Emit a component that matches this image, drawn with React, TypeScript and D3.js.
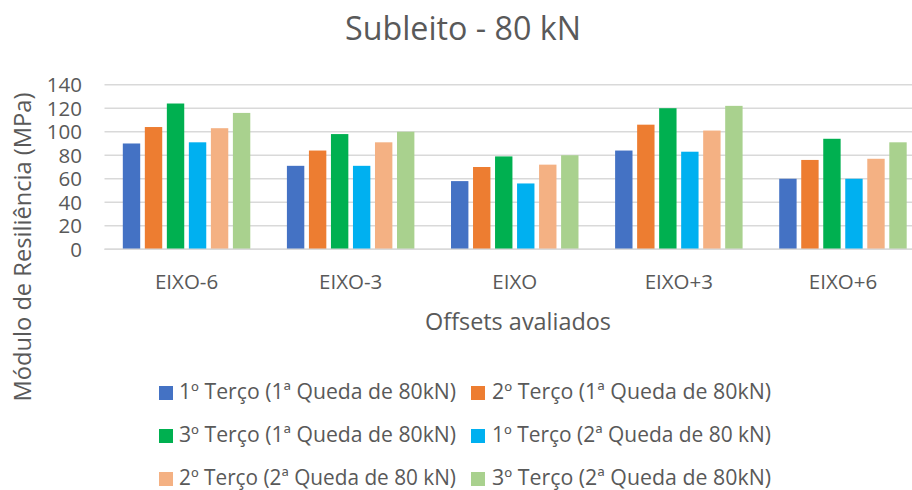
import React from "react";
import * as d3 from "d3";

const categories = ["EIXO-6", "EIXO-3", "EIXO", "EIXO+3", "EIXO+6"];
const seriesNames = [
  "1º Terço (1ª Queda de 80kN)",
  "2º Terço (1ª Queda de 80kN)",
  "3º Terço (1ª Queda de 80kN)",
  "1º Terço (2ª Queda de 80 kN)",
  "2º Terço (2ª Queda de 80 kN)",
  "3º Terço (2ª Queda de 80kN)",
];
const terco1Queda1 = [90, 71, 58, 84, 60];
const terco2Queda1 = [104, 84, 70, 106, 76];
const terco3Queda1 = [124, 98, 79, 120, 94];
const terco1Queda2 = [91, 71, 56, 83, 60];
const terco2Queda2 = [103, 91, 72, 101, 77];
const terco3Queda2 = [116, 100, 80, 122, 91];
const seriesValues = [terco1Queda1, terco2Queda1, terco3Queda1, terco1Queda2, terco2Queda2, terco3Queda2];
const colors = ["#4472C4", "#ED7D31", "#00B050", "#00B0F0", "#F4B183", "#A9D18E"];
const yTicks = [0, 20, 40, 60, 80, 100, 120, 140];

const W = 912;
const H = 490;
const FONT = "'Open Sans', sans-serif";
const TEXT = "#595959";

export default function App() {
  const x = d3.scaleBand<string>().domain(categories).range([104.5, 925]).padding(0);
  const inner = d3
    .scaleBand<number>()
    .domain(d3.range(seriesNames.length))
    .range([16, x.bandwidth() - 16])
    .paddingInner(0.21)
    .paddingOuter(0.105);
  const y = d3.scaleLinear().domain([0, 140]).range([249.3, 84.7]);

  const legendPos = seriesNames.map((_, i) => ({
    sx: i % 2 === 0 ? 159 : 471,
    tx: i % 2 === 0 ? 179 : 492,
    base: 399 + Math.floor(i / 2) * 43,
  }));

  return (
    <svg width={W} height={H} style={{ position: "absolute", left: 0, top: 0, background: "#fff" }}>
      <rect width={W} height={H} fill="#fff" />
      <text x={463} y={40} textAnchor="middle" fontFamily={FONT} fontSize={32} fill={TEXT} textLength={236} lengthAdjust="spacingAndGlyphs">
        Subleito - 80 kN
      </text>
      {yTicks.map((t) => (
        <g key={t}>
          <line x1={x.range()[0]} x2={x.range()[1]} y1={y(t)} y2={y(t)} stroke="#d9d9d9" strokeWidth={1.4} />
          <text x={82} y={y(t)} dy="0.36em" textAnchor="end" fontFamily={FONT} fontSize={20.5} fill={TEXT}>
            {t}
          </text>
        </g>
      ))}
      {categories.map((c, ci) => (
        <g key={c} transform={`translate(${x(c)},0)`}>
          {seriesValues.map((vals, si) => (
            <rect
              key={si}
              x={inner(si)}
              y={y(vals[ci])}
              width={inner.bandwidth()}
              height={y(0) - y(vals[ci])}
              fill={colors[si]}
            />
          ))}
          <text x={x.bandwidth() / 2} y={289} textAnchor="middle" fontFamily={FONT} fontSize={20.5} fill={TEXT}>
            {c}
          </text>
        </g>
      ))}
      <line x1={x.range()[0]} x2={x.range()[1]} y1={y(0)} y2={y(0)} stroke="#d9d9d9" strokeWidth={1.4} />
      <text x={518} y={330} textAnchor="middle" fontFamily={FONT} fontSize={24} fill={TEXT} textLength={186} lengthAdjust="spacingAndGlyphs">
        Offsets avaliados
      </text>
      <text
        transform={`translate(31,247) rotate(-90)`}
        textAnchor="middle"
        fontFamily={FONT}
        fontSize={23}
        fill={TEXT}
        textLength={309}
        lengthAdjust="spacingAndGlyphs"
      >
        Módulo de Resiliência (MPa)
      </text>
      {seriesNames.map((n, i) => (
        <g key={n}>
          <rect x={legendPos[i].sx} y={legendPos[i].base - 13} width={14} height={14} fill={colors[i]} />
          <text x={legendPos[i].tx} y={legendPos[i].base} fontFamily={FONT} fontSize={21} fill={TEXT} textLength={i % 2 === 0 ? 277 : 279} lengthAdjust="spacingAndGlyphs">
            {n}
          </text>
        </g>
      ))}
    </svg>
  );
}
